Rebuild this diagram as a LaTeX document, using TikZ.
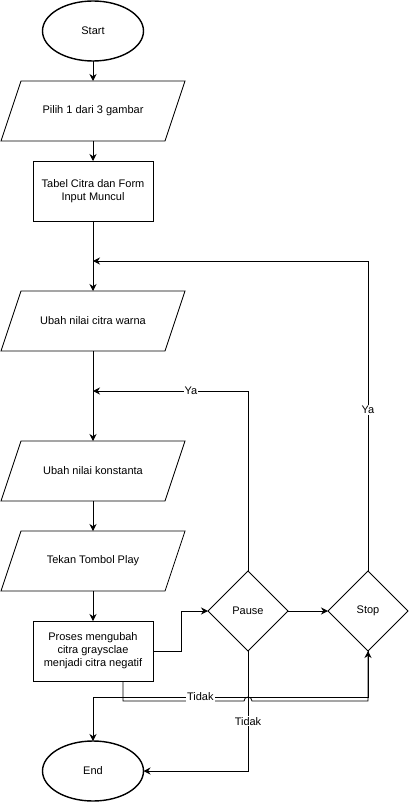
\documentclass[tikz,border=0pt]{standalone}
\usepackage{fontspec}
\setmainfont{Liberation Sans}
\usetikzlibrary{shapes.geometric,arrows.meta}
\newcommand\iobox[1]{\draw[plain] ([xshift=20pt]#1.north west) -- (#1.north east) -- ([xshift=-20pt]#1.south east) -- (#1.south west) -- cycle;}
\begin{document}
\begin{tikzpicture}[x=1pt,y=-1pt,
  base/.style={font=\fontsize{11}{13}\selectfont, align=center, inner sep=0pt, outer sep=0pt},
  term/.style={base, ellipse, draw, line width=1.4pt, minimum width=101pt, minimum height=60pt},
  proc/.style={base, rectangle, draw, line width=0.8pt, minimum width=120pt, minimum height=60pt},
  io/.style={base, rectangle, minimum width=184pt, minimum height=60pt},
  dec/.style={base, diamond, draw, line width=0.8pt, minimum width=80pt, minimum height=80pt, aspect=1},
  conn/.style={line width=0.8pt, -{Stealth[length=7pt,width=7pt]}},
  plain/.style={line width=0.8pt},
  lbl/.style={base, fill=white, inner sep=1pt}
]
\useasboundingbox (0,0) rectangle (409,802);

\node[term] (start) at (93,31) {Start};
\node[io] (pilih) at (93,111) {Pilih 1 dari 3 gambar};
\node[proc] (tabel) at (93,191) {Tabel Citra dan Form\\Input Muncul};
\coordinate (j1) at (93,261);
\node[io] (warna) at (93,321) {Ubah nilai citra warna};
\coordinate (j2) at (93,391);
\node[io] (konst) at (93,471) {Ubah nilai konstanta};
\node[io] (tekan) at (93,561) {Tekan Tombol Play};
\node[proc] (proses) at (93,651) {Proses mengubah\\citra graysclae\\menjadi citra negatif};
\node[dec] (pause) at (248,611) {Pause};
\node[dec] (stop) at (368,611) {Stop};
\node[term] (end) at (93,771) {End};

\iobox{pilih}
\iobox{warna}
\iobox{konst}
\iobox{tekan}

\draw[conn] (start) -- (pilih);
\draw[conn] (pilih) -- (tabel);
\draw[plain] (tabel) -- (j1);
\draw[conn] (j1) -- (warna);
\draw[plain] (warna) -- (j2);
\draw[conn] (j2) -- (konst);
\draw[conn] (konst) -- (tekan);
\draw[conn] (tekan) -- (proses);
\draw[conn] (proses.east) -- ++(28,0) |- (pause.west);
\draw[conn] (pause) -- (stop);
\draw[conn] (pause.north) |- node[lbl, pos=0.684] {Ya} (j2);
\draw[conn] (stop.north) |- node[lbl, pos=0.26] {Ya} (j1);
\draw[conn] ([xshift=30pt]proses.south) |- (244,701) arc(180:360:4) -| (stop.south);
\draw[conn] (stop.south) -- (368,697) -| node[lbl, pos=0.305] {Tidak} (end.north);
\draw[conn] (pause.south) |- node[lbl, pos=0.292] {Tidak} (end.east);
\end{tikzpicture}
\end{document}
